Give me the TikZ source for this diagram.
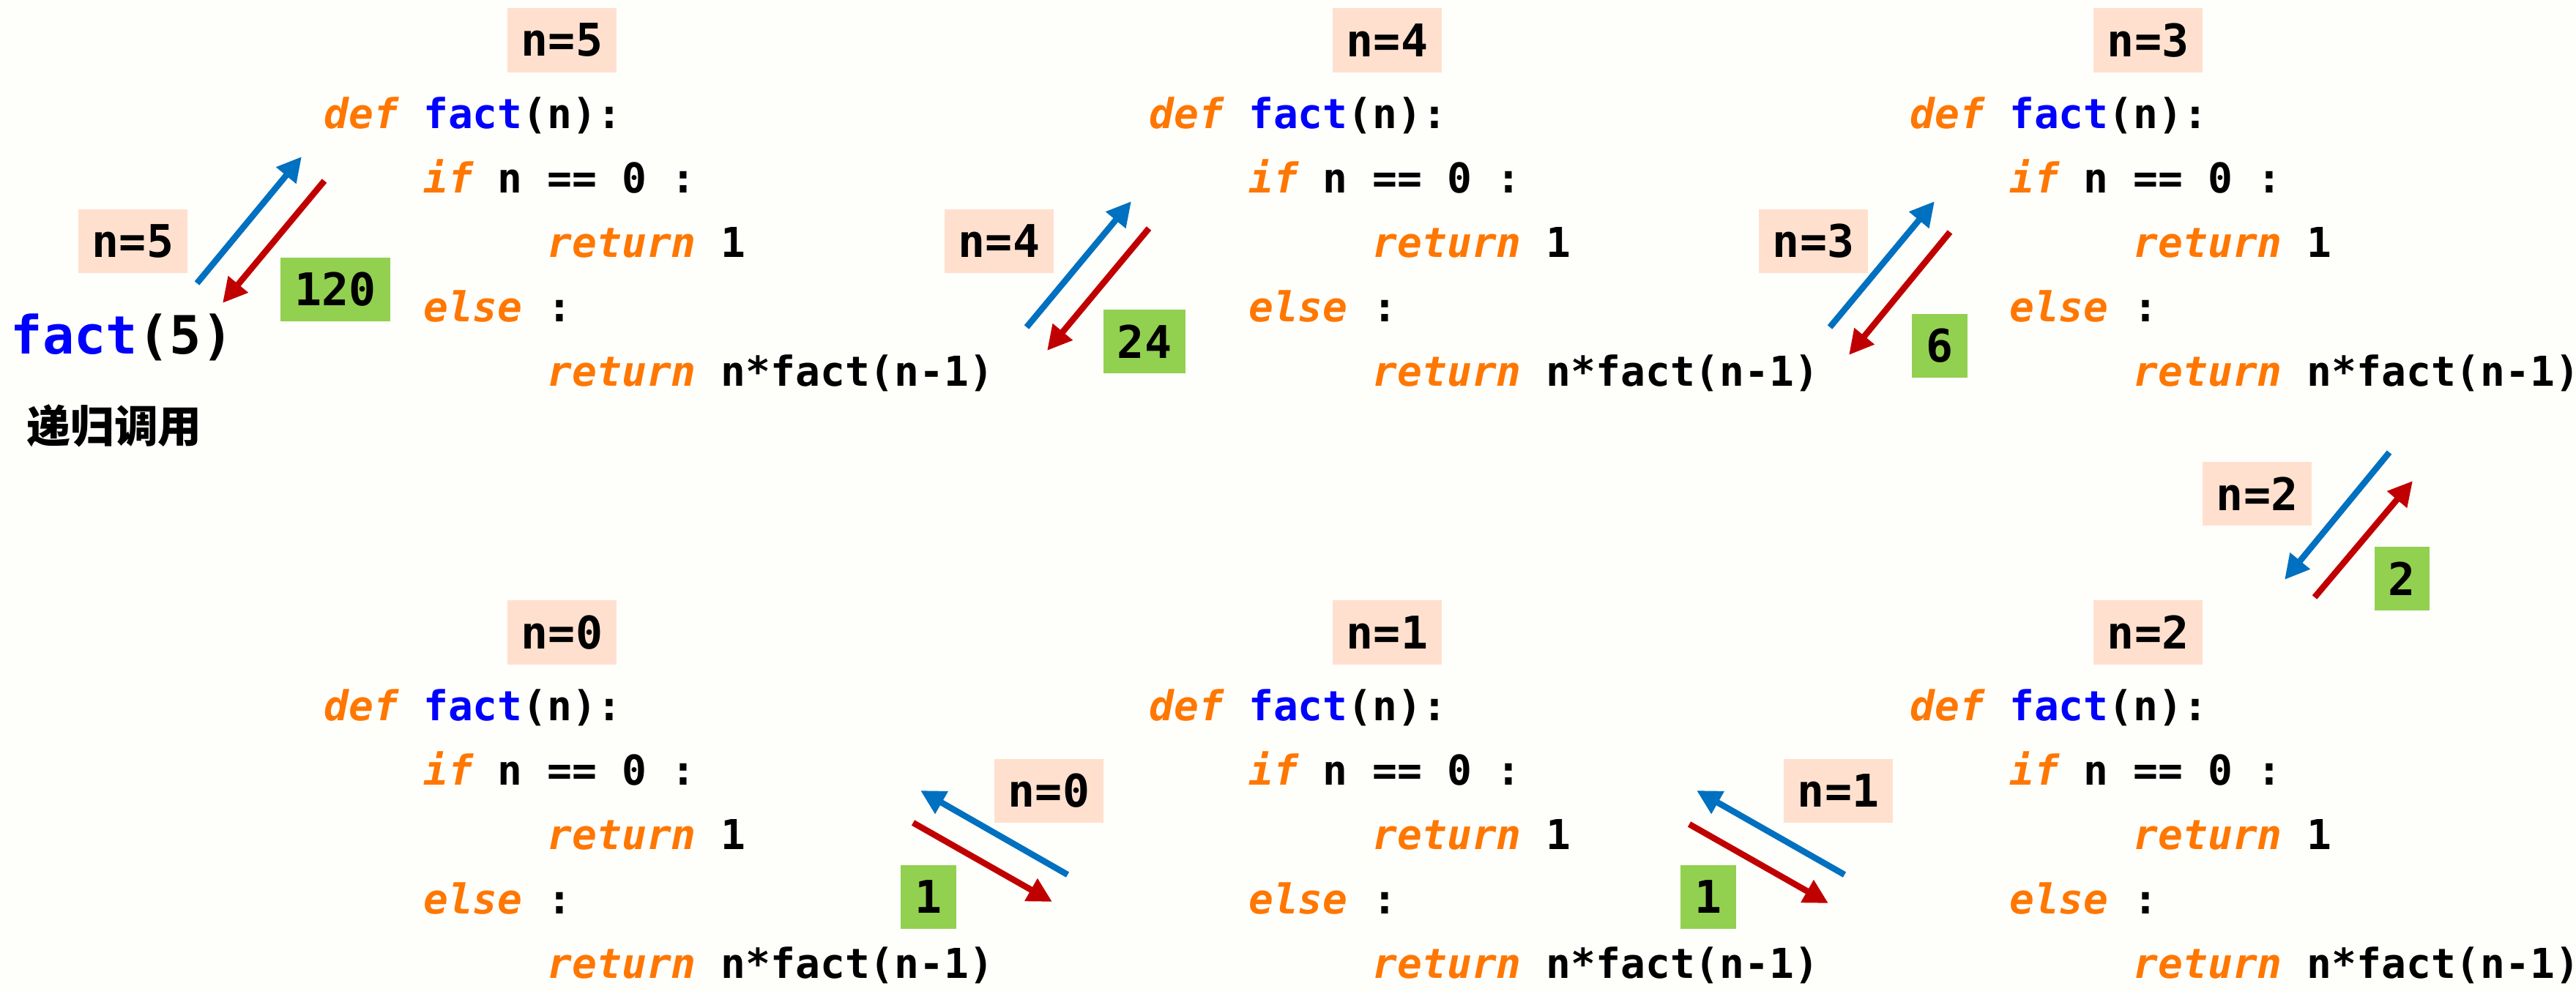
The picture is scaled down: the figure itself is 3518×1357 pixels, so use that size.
\documentclass[tikz,border=0pt]{standalone}
\usepackage{fontspec}
\usetikzlibrary{arrows.meta, calc}

\newfontfamily\codefont{DejaVu Sans Mono}
\newfontfamily\cjk{Noto Sans CJK SC}

\definecolor{kwcol}{RGB}{255,119,0}
\definecolor{fncol}{RGB}{0,0,255}
\definecolor{nbg}{RGB}{255,224,206}
\definecolor{valbg}{RGB}{146,208,80}
\definecolor{callcol}{RGB}{0,112,192}
\definecolor{retcol}{RGB}{192,0,0}
\definecolor{bgcol}{RGB}{254,254,251}

\newcommand{\kw}[1]{\textcolor{kwcol}{\itshape #1}}
\newcommand{\fn}[1]{\textcolor{fncol}{#1}}
\newcommand{\ind}[1]{\hphantom{#1}}

\begin{document}
\begin{tikzpicture}[x=0.01cm, y=-0.01cm,
            codeline/.style={anchor=base west, inner sep=0pt, font=\codefont\bfseries\fontsize{16}{19}\selectfont},
            nlabel/.style={fill=nbg, inner xsep=0.19cm, inner ysep=0pt, minimum height=0.87cm, font=\codefont\bfseries\fontsize{17.5}{20}\selectfont},
            retval/.style={nlabel, fill=valbg},
            callarrow/.style={draw=callcol, line width=2.4pt, -{Triangle[length=9.5pt, width=9.5pt]}},
            retarrow/.style={callarrow, draw=retcol}
        ]

        \fill[bgcol] (0,0) rectangle (3518,1357);
        \useasboundingbox (0,0) rectangle (3518,1357);

        % Code-Bloecke
        \foreach \nm/\x/\y/\k in {f5/442/175/5, f4/1569/175/4, f3/2608/175/3, f0/442/984/0, f1/1569/984/1, f2/2608/984/2} {
            \node[codeline] (\nm-1) at (\x,\y) {\kw{def} \fn{fact}(n):};
            \node[codeline] (\nm-2) at ($(\nm-1.base west)+(0,88)$) {\ind{0000}\kw{if} n == 0 :};
            \node[codeline] (\nm-3) at ($(\nm-2.base west)+(0,88)$) {\ind{000000000}\kw{return} 1};
            \node[codeline] (\nm-4) at ($(\nm-3.base west)+(0,88)$) {\ind{0000}\kw{else} :};
            \node[codeline] (\nm-5) at ($(\nm-4.base west)+(0,88)$) {\ind{000000000}\kw{return} n*fact(n-1)};
            \node[nlabel] (\nm-n) at ($(\nm-1.base west)+(325.5,-120)$) {n=\k};
        }

        % Aufruf
        \node[codeline, font=\codefont\bfseries\fontsize{20.5}{24}\selectfont] (call) at (14,483) {\fn{fact}(5)};
        \node[inner sep=0pt, font=\cjk\bfseries\fontsize{17}{20}\selectfont] (rec) at (156,582) {递归调用};

        % Argumente und Rueckgabewerte
        \node[nlabel] (arg5) at (181.5,329.5) {n=5};
        \node[retval] (val5) at (458,395.5) {120};
        \node[nlabel] (arg4) at (1364.5,329.3) {n=4};
        \node[retval] (val4) at (1563,466.3) {24};
        \node[nlabel] (arg3) at (2476.5,329.3) {n=3};
        \node[retval] (val3) at (2649,472.5) {6};
        \node[nlabel] (arg2) at (3082.5,674.3) {n=2};
        \node[retval] (val2) at (3280,790.5) {2};
        \node[nlabel] (arg1) at (2510.5,1080.5) {n=1};
        \node[retval] (val1) at (2333,1225.3) {1};
        \node[nlabel] (arg0) at (1432.5,1080.5) {n=0};
        \node[retval] (val0) at (1268,1225.3) {1};

        % Pfeile
        \foreach \i/\ax/\ay/\bx/\by/\cx/\cy/\dx/\dy in {
            5/269/387/412/214/443/247/304/414,
            4/1402/447/1545/275/1569/312/1430/479,
            3/2499/447/2642/275/2663/317/2525/485,
            2/3263/618/3120/792/3161/816/3295/657,
            1/2519/1195/2317/1080/2307/1126/2497/1234,
            0/1458/1195/1257/1080/1247/1124/1437/1232} {
            \coordinate (cs\i) at (\ax,\ay);
            \coordinate (ce\i) at (\bx,\by);
            \coordinate (rs\i) at (\cx,\cy);
            \coordinate (re\i) at (\dx,\dy);
            \draw[callarrow] (cs\i) -- (ce\i);
            \draw[retarrow] (rs\i) -- (re\i);
        }

    \end{tikzpicture}
\end{document}
